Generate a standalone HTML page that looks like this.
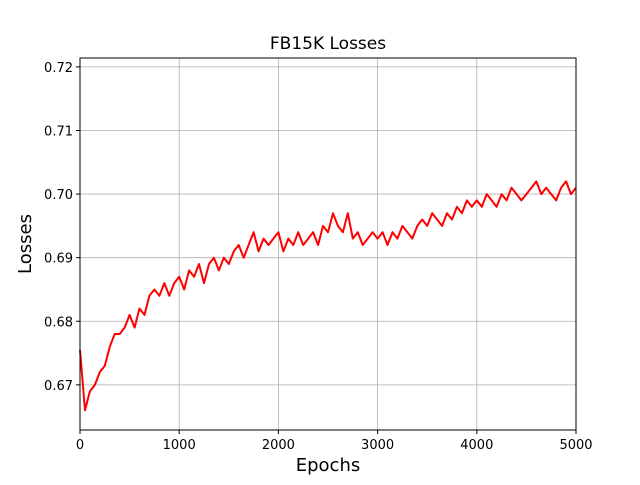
<!DOCTYPE html>
<html><head><meta charset="utf-8"><style>
body{margin:0;background:#fff;}
svg text{font-family:"DejaVu Sans","Liberation Sans",sans-serif;fill:#000;}
</style></head><body>
<svg width="640" height="480" xmlns="http://www.w3.org/2000/svg">
<rect width="640" height="480" fill="#fff"/>
<g id="grid"></g>
<g id="ticks"></g>
<polyline id="line" fill="none" stroke="#ff0000" stroke-width="2" stroke-linejoin="round"/>
<rect x="80" y="58" width="496" height="372" fill="none" stroke="#000" stroke-width="1"/>
<text x="328" y="49" font-size="17" text-anchor="middle">FB15K Losses</text>
<text x="328" y="471" font-size="18" text-anchor="middle">Epochs</text>
<text x="31" y="244" font-size="18" text-anchor="middle" transform="rotate(-90 31 244)">Losses</text>
</svg>
<script>
const epochs=[0,50,100,150,200,250,300,350,400,450,500,550,600,650,700,750,800,850,900,950,1000,1050,1100,1150,1200,1250,1300,1350,1400,1450,1500,1550,1600,1650,1700,1750,1800,1850,1900,1950,2000,2050,2100,2150,2200,2250,2300,2350,2400,2450,2500,2550,2600,2650,2700,2750,2800,2850,2900,2950,3000,3050,3100,3150,3200,3250,3300,3350,3400,3450,3500,3550,3600,3650,3700,3750,3800,3850,3900,3950,4000,4050,4100,4150,4200,4250,4300,4350,4400,4450,4500,4550,4600,4650,4700,4750,4800,4850,4900,4950,5000];
const losses=[0.6755,0.666,0.669,0.670,0.672,0.673,0.676,0.678,0.678,0.679,0.681,0.679,0.682,0.681,0.684,0.685,0.684,0.686,0.684,0.686,0.687,0.685,0.688,0.687,0.689,0.686,0.689,0.690,0.688,0.690,0.689,0.691,0.692,0.690,0.692,0.694,0.691,0.693,0.692,0.693,0.694,0.691,0.693,0.692,0.694,0.692,0.693,0.694,0.692,0.695,0.694,0.697,0.695,0.694,0.697,0.693,0.694,0.692,0.693,0.694,0.693,0.694,0.692,0.694,0.693,0.695,0.694,0.693,0.695,0.696,0.695,0.697,0.696,0.695,0.697,0.696,0.698,0.697,0.699,0.698,0.699,0.698,0.700,0.699,0.698,0.700,0.699,0.701,0.700,0.699,0.700,0.701,0.702,0.700,0.701,0.700,0.699,0.701,0.702,0.700,0.701];
const xTicks=[0,1000,2000,3000,4000,5000];
const yTicks=[0.67,0.68,0.69,0.70,0.71,0.72];
const yTickLabels=["0.67","0.68","0.69","0.70","0.71","0.72"];
const X0=80,X1=576,Y0=430,Y1=58,xmin=0,xmax=5000,ymin=0.6629,ymax=0.7214;
const sx=v=>X0+(v-xmin)/(xmax-xmin)*(X1-X0);
const sy=v=>Y0-(v-ymin)/(ymax-ymin)*(Y0-Y1);
const NS="http://www.w3.org/2000/svg";
const grid=document.getElementById('grid'),ticks=document.getElementById('ticks');
function mk(tag,attrs,parent){const e=document.createElementNS(NS,tag);for(const k in attrs)e.setAttribute(k,attrs[k]);parent.appendChild(e);return e;}
xTicks.forEach(t=>{const x=sx(t);
 const g=mk('line',{x1:x,x2:x,y1:Y1,y2:Y0,stroke:'#b0b0b0','stroke-width':0.8},grid);
 
 
 mk('line',{x1:x,x2:x,y1:Y0,y2:Y0+4,stroke:'#000'},ticks);
 const tx=mk('text',{x:x,y:Y0+19,'font-size':13,'text-anchor':'middle'},ticks);tx.textContent=t;
 
 
});
yTicks.forEach((t,i)=>{const y=sy(t);
 const g=mk('line',{x1:X0,x2:X1,y1:y,y2:y,stroke:'#b0b0b0','stroke-width':0.8},grid);
 
 
 mk('line',{x1:X0-4,x2:X0,y1:y,y2:y,stroke:'#000'},ticks);
 const tx=mk('text',{x:X0-7,y:y+5,'font-size':13,'text-anchor':'end'},ticks);tx.textContent=yTickLabels[i];
 
 
});
document.getElementById('line').setAttribute('points',epochs.map((e,i)=>sx(e).toFixed(1)+','+sy(losses[i]).toFixed(1)).join(' '));
</script>
</body></html>
